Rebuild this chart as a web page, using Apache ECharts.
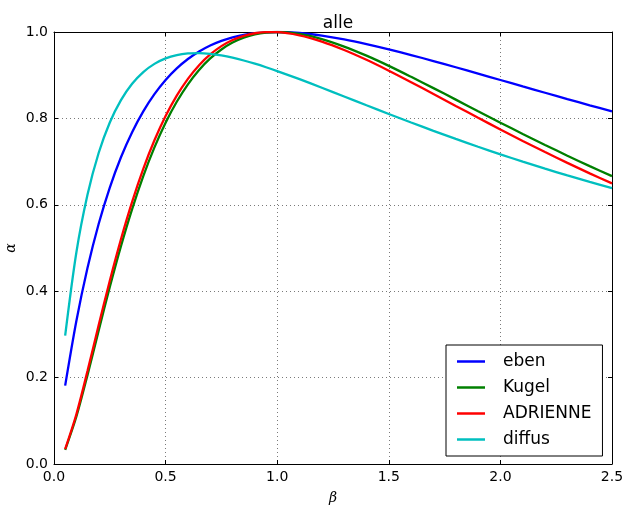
<!DOCTYPE html>
<html>
<head>
<meta charset="utf-8">
<script src="https://cdn.jsdelivr.net/npm/echarts@6/dist/echarts.min.js"></script>
<style>
html,body{margin:0;padding:0;background:#fff;}
#chart{width:623px;height:505px;}
</style>
</head>
<body>
<div id="chart"></div>
<script>
const titleText = 'alle';
const seriesNames = ['eben', 'Kugel', 'ADRIENNE', 'diffus'];
const xTicks = [0.0, 0.5, 1.0, 1.5, 2.0, 2.5];
const yTicks = [0.0, 0.2, 0.4, 0.6, 0.8, 1.0];

const beta = [0.05, 0.10, 0.15, 0.20, 0.25, 0.30, 0.35, 0.40, 0.45, 0.50,
  0.55, 0.60, 0.65, 0.70, 0.75, 0.80, 0.85, 0.90, 0.95, 1.00,
  1.1, 1.2, 1.3, 1.4, 1.5, 1.6, 1.7, 1.8, 1.9, 2.0, 2.1, 2.2, 2.3, 2.4, 2.5];

const eben = [0.1814, 0.3306, 0.4537, 0.5556, 0.6400, 0.7101, 0.7682, 0.8163, 0.8561, 0.8889,
  0.9157, 0.9375, 0.9550, 0.9689, 0.9796, 0.9877, 0.9934, 0.9972, 0.9993, 1.0000,
  0.9977, 0.9917, 0.9830, 0.9722, 0.9600, 0.9467, 0.9328, 0.9184, 0.9037, 0.8889,
  0.8741, 0.8594, 0.8448, 0.8304, 0.8163];

const kugel = [0.0329, 0.1093, 0.2058, 0.3087, 0.4096, 0.5042, 0.5901, 0.6664, 0.7329, 0.7901,
  0.8385, 0.8789, 0.9120, 0.9388, 0.9596, 0.9756, 0.9868, 0.9944, 0.9986, 1.0000,
  0.9954, 0.9835, 0.9663, 0.9452, 0.9216, 0.8962, 0.8701, 0.8435, 0.8167, 0.7901,
  0.7641, 0.7386, 0.7137, 0.6896, 0.6664];

const adrienne = [0.0347, 0.1147, 0.2150, 0.3210, 0.4243, 0.5203, 0.6069, 0.6832, 0.7493, 0.8055,
  0.8527, 0.8916, 0.9232, 0.9481, 0.9673, 0.9815, 0.9912, 0.9971, 0.9998, 0.9996,
  0.9922, 0.9778, 0.9584, 0.9356, 0.9104, 0.8838, 0.8565, 0.8289, 0.8015, 0.7744,
  0.7479, 0.7221, 0.6970, 0.6728, 0.6495];

const diffus = [0.2973, 0.4891, 0.6232, 0.7199, 0.7906, 0.8423, 0.8801, 0.9072, 0.9262, 0.9389,
  0.9466, 0.9504, 0.9511, 0.9494, 0.9457, 0.9405, 0.9340, 0.9266, 0.9184, 0.9096,
  0.8908, 0.8710, 0.8507, 0.8304, 0.8103, 0.7906, 0.7712, 0.7525, 0.7344, 0.7169,
  0.7000, 0.6837, 0.6680, 0.6531, 0.6385];

const colors = ['#0000ff', '#008000', '#ff0000', '#00bfbf'];
const values = [eben, kugel, adrienne, diffus];

const FONT = 'DejaVu Sans';
const chart = echarts.init(document.getElementById('chart'), null, {renderer: 'canvas'});

const xMin = xTicks[0], xMax = xTicks[xTicks.length - 1];
const yMin = yTicks[0], yMax = yTicks[yTicks.length - 1];
const xInt = xTicks[1] - xTicks[0];
const yInt = yTicks[1] - yTicks[0];

const gridLine = {show: true, lineStyle: {color: '#7a7a7a', width: 1, type: [1, 3]}};
const axisLine = {show: true, onZero: false, lineStyle: {color: '#000', width: 1}};
const tick = {show: true, inside: true, length: 4, lineStyle: {color: '#000', width: 1}};

const option = {
  backgroundColor: '#fff',
  animation: false,
  title: {
    text: titleText,
    left: 333, top: 10,
    textAlign: 'center',
    textStyle: {fontFamily: FONT, fontSize: 17, fontWeight: 'normal', color: '#000'}
  },
  grid: {left: 54, right: 11, top: 32, bottom: 41, containLabel: false, outerBoundsMode: 'none'},
  legend: {
    orient: 'vertical',
    left: 446, top: 345,
    data: seriesNames,
    icon: 'rect',
    itemWidth: 28, itemHeight: 2.5, itemGap: 9,
    padding: [8, 11, 8, 11],
    borderColor: '#000', borderWidth: 1,
    backgroundColor: '#fff',
    itemStyle: {borderWidth: 0},
    textStyle: {fontFamily: FONT, fontSize: 17, color: '#000', padding: [0, 0, 0, 13]}
  },
  xAxis: [{
    type: 'value', min: xMin, max: xMax, interval: xInt,
    name: 'β', nameLocation: 'middle', nameGap: 27, nameMoveOverlap: false,
    nameTextStyle: {fontFamily: 'DejaVu Serif', fontStyle: 'italic', fontSize: 14, color: '#000'},
    axisLine: axisLine, axisTick: tick, splitLine: gridLine,
    axisLabel: {fontFamily: FONT, fontSize: 14, color: '#000', margin: 6, formatter: v => v.toFixed(1)}
  }, {
    type: 'value', position: 'top', min: xMin, max: xMax, interval: xInt,
    axisLine: axisLine, axisTick: tick, splitLine: {show: false}, axisLabel: {show: false}
  }],
  yAxis: [{
    type: 'value', min: yMin, max: yMax, interval: yInt,
    name: 'α', nameLocation: 'middle', nameGap: 36, nameMoveOverlap: false,
    nameTextStyle: {fontFamily: 'DejaVu Serif', fontStyle: 'italic', fontSize: 14, color: '#000'},
    axisLine: axisLine, axisTick: tick, splitLine: gridLine,
    axisLabel: {fontFamily: FONT, fontSize: 14, color: '#000', margin: 6, formatter: v => v.toFixed(1)}
  }, {
    type: 'value', position: 'right', min: yMin, max: yMax, interval: yInt,
    axisLine: axisLine, axisTick: tick, splitLine: {show: false}, axisLabel: {show: false}
  }],
  series: seriesNames.map((name, k) => ({
    name: name,
    type: 'line',
    xAxisIndex: 0, yAxisIndex: 0,
    data: beta.map((b, i) => [b, values[k][i]]),
    showSymbol: false, symbol: 'none',
    smooth: 0.3,
    color: colors[k],
    lineStyle: {color: colors[k], width: 2.3},
    itemStyle: {color: colors[k]}
  }))
};
chart.setOption(option);
</script>
</body>
</html>
